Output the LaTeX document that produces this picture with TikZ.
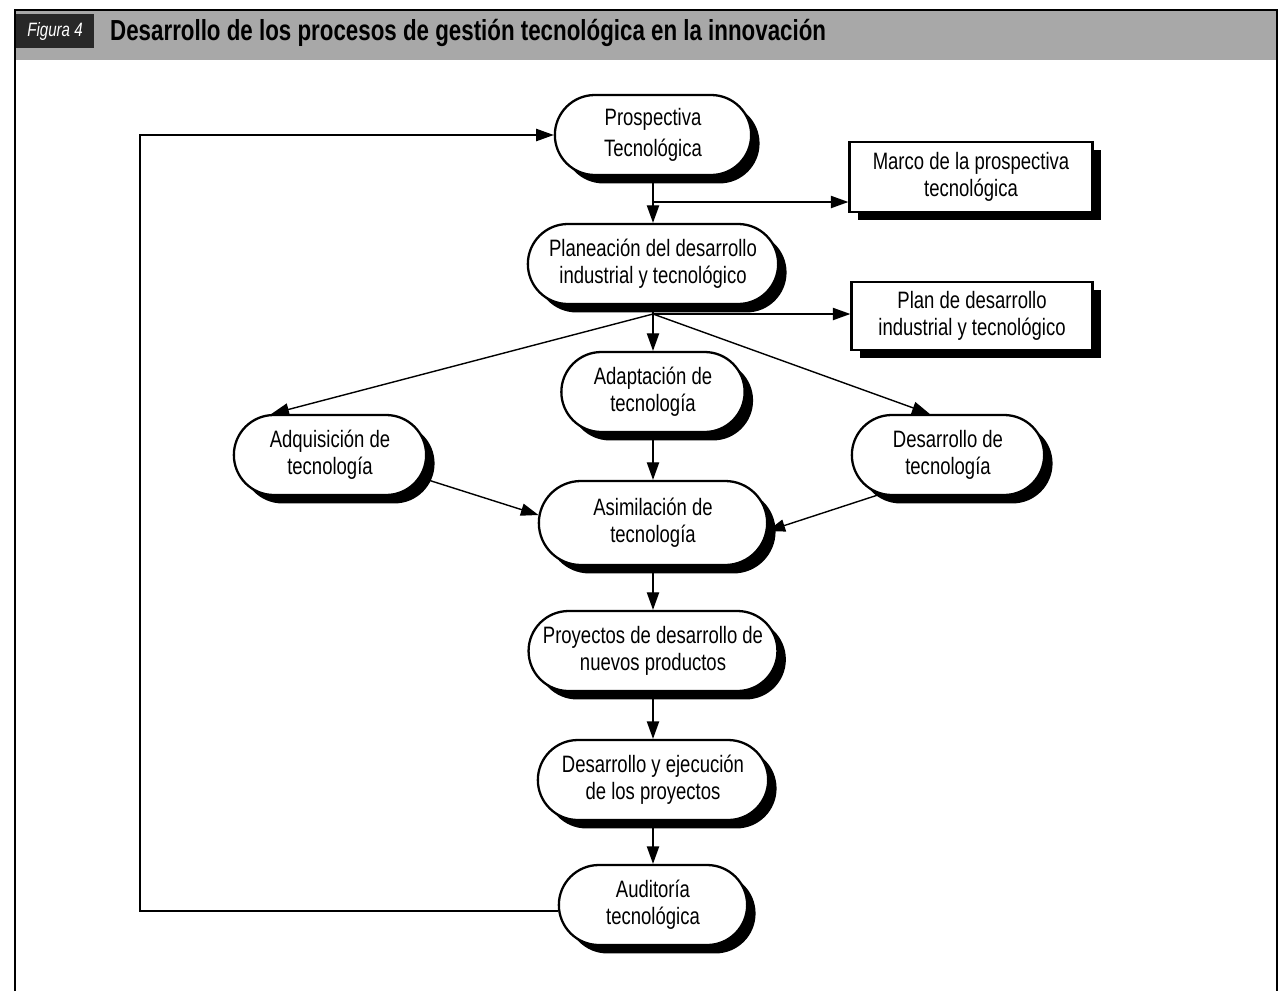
\documentclass[tikz,border=0pt]{standalone}
\usepackage{fontspec}
\setmainfont{Liberation Sans}[FakeStretch=0.78]
\newfontfamily\titlefont{Liberation Sans}[FakeStretch=0.77]
\usetikzlibrary{shapes.misc,shadows,arrows.meta}
\definecolor{titlegray}{RGB}{168,168,168}
\definecolor{figbox}{RGB}{40,40,40}

\tikzset{
    sombra/.style={drop shadow={shadow xshift=4.8pt, shadow yshift=-4.8pt, fill=black, opacity=1}},
    proceso/.style={rounded rectangle, draw, line width=1.3pt, fill=white, align=center,
        font=\fontsize{13.5}{15.5}\selectfont, minimum height=16mm, sombra},
    resultado/.style={rectangle, draw, line width=1.3pt, fill=white, align=center,
        font=\fontsize{13.5}{15.5}\selectfont, sombra},
    flecha/.style={line width=0.8pt, -{Triangle[length=10pt,width=7pt]}}
}

\begin{document}
\begin{tikzpicture}[x=0.2mm, y=-0.2mm]
    \useasboundingbox (0,0) rectangle (1282,991);
    \fill[white] (0,0) rectangle (1282,991);

    % Title bar
    \fill[titlegray] (15,10) rectangle (1277,60);
    \draw[line width=1pt] (15,991) -- (15,10) -- (1277,10) -- (1277,991);
    \node[fill=figbox, text=white, font=\itshape\fontsize{11}{12}\selectfont,
        minimum width=15.4mm, minimum height=6.8mm] (fig) at (55,31) {Figura 4};
    \node[anchor=west, font=\titlefont\bfseries\fontsize{16.5}{18}\selectfont] (titulo) at (104,33)
        {Desarrollo de los procesos de gestión tecnológica en la innovación};

    % Processes
    \node[proceso, minimum width=41.6mm, font=\fontsize{13.5}{18}\selectfont] (pro) at (653,135)
        {Prospectiva\\Tecnológica};
    \node[proceso, minimum width=52.4mm] (pla) at (653,264)
        {Planeación del desarrollo\\industrial y tecnológico};
    \node[proceso, minimum width=39mm] (ada) at (653,392) {Adaptación de\\tecnología};
    \node[proceso, minimum width=40.8mm] (adq) at (330,455) {Adquisición de\\tecnología};
    \node[proceso, minimum width=40.8mm] (des) at (948,455) {Desarrollo de\\tecnología};
    \node[proceso, minimum width=48mm, minimum height=16.8mm] (asi) at (653,523)
        {Asimilación de\\tecnología};
    \node[proceso, minimum width=49mm] (pry) at (653,651)
        {Proyectos de desarrollo de\\nuevos productos};
    \node[proceso, minimum width=48.4mm] (eje) at (653,780)
        {Desarrollo y ejecución\\de los proyectos};
    \node[proceso, minimum width=40mm] (aud) at (653,905) {Auditoría\\tecnológica};

    % Results
    \node[resultado, minimum width=48.6mm, minimum height=14mm] (marco) at (971,177)
        {Marco de la prospectiva\\tecnológica};
    \node[resultado, minimum width=48.2mm, minimum height=13.6mm] (plan) at (972,316)
        {Plan de desarrollo\\industrial y tecnológico};

    \coordinate (salida) at (653,202);
    \coordinate (rama) at (653,314);
    \coordinate (retorno) at (140,0);

    % Connectors
    \draw[flecha] (pro.south) -- (pla.north);
    \draw[flecha] (salida) -- (salida -| marco.west);
    \draw[line width=0.8pt] (pla.south) -- (rama);
    \draw[flecha] (rama) -- (rama -| plan.west);
    \draw[flecha] (rama) -- (ada.north);
    \draw[flecha] (rama) -- (adq.145);
    \draw[flecha] (rama) -- (des.114);
    \draw[flecha] (ada.south) -- (asi.north);
    \draw[flecha] (adq.-14) -- (asi.176);
    \draw[flecha] (des.-150) -- (asi.-4);
    \draw[flecha] (asi.south) -- (pry.north);
    \draw[flecha] (pry.south) -- (eje.north);
    \draw[flecha] (eje.south) -- (aud.north);
    \draw[flecha] ([yshift=-1.2mm]aud.west) -| (retorno |- pro.west) -- (pro.west);
\end{tikzpicture}
\end{document}
